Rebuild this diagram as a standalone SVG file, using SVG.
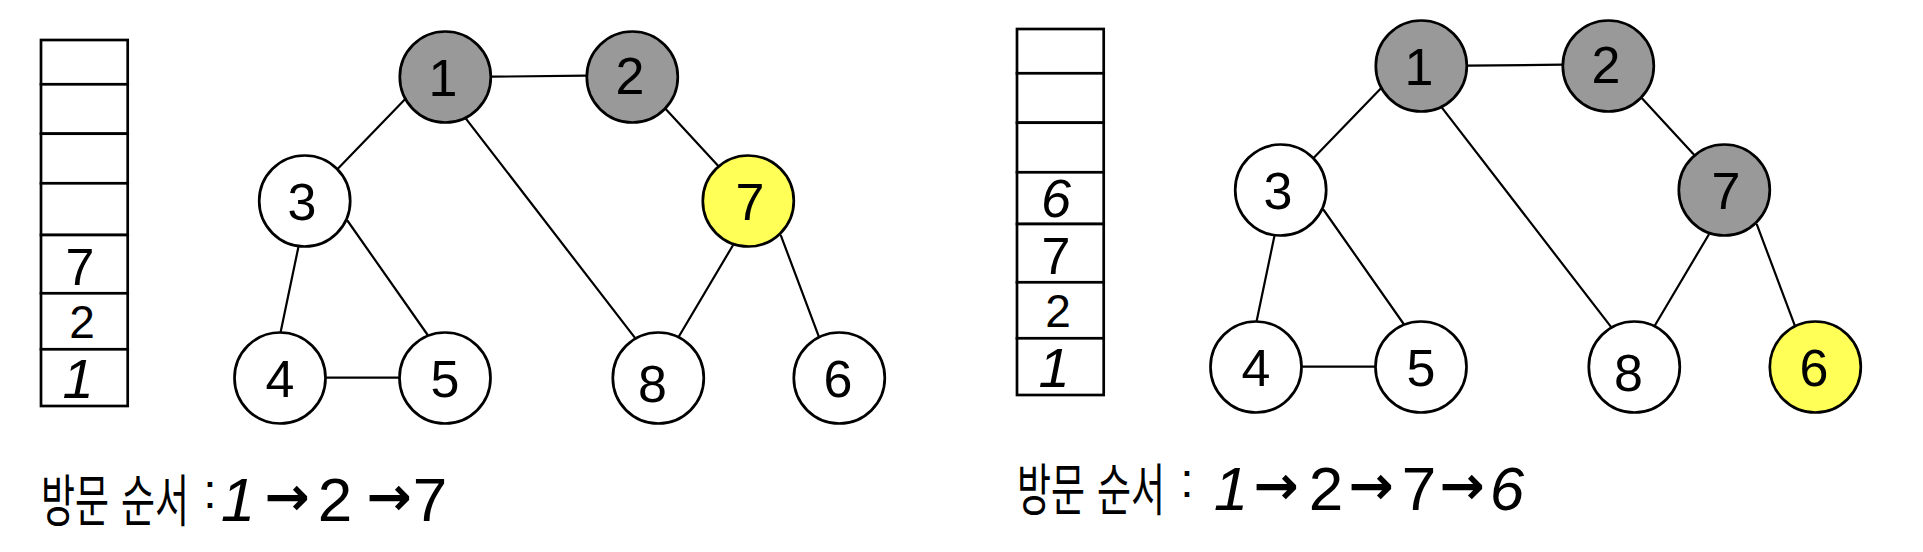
<svg xmlns="http://www.w3.org/2000/svg" width="1923" height="552" viewBox="0 0 1923 552">
<style>
.bg{fill:#ffffff}
.edge{stroke:#000;stroke-width:2.2;fill:none;stroke-linecap:round}
.node{stroke:#000;stroke-width:2.7}
.white{fill:#ffffff}
.gray{fill:#999999}
.yellow{fill:#ffff57}
.lbl{font-family:"Liberation Sans","DejaVu Sans",sans-serif;font-size:52px;fill:#000;text-anchor:middle}
.cell{fill:#fff;stroke:#000;stroke-width:2.7}
.sd{font-family:"Liberation Sans","DejaVu Sans",sans-serif;fill:#000;text-anchor:middle}
.ko{font-family:"Noto Sans CJK KR",sans-serif;font-size:37px;fill:#000}
.dg{font-family:"Liberation Sans","DejaVu Sans",sans-serif;font-size:62px;fill:#000;text-anchor:middle}
.col{font-family:"Liberation Sans","DejaVu Sans",sans-serif;font-size:48px;fill:#000;text-anchor:middle}
.ar{font-family:"DejaVu Sans",sans-serif;font-size:54px;font-weight:bold;fill:#000;text-anchor:middle}
</style>
<rect class="bg" x="0" y="0" width="1923" height="552"/>

<!-- LEFT PANEL -->
<g id="left-panel">
  <g id="stack-left">
    <rect class="cell" x="41" y="40" width="86.7" height="44.3"/>
    <rect class="cell" x="41" y="84.3" width="86.7" height="49.4"/>
    <rect class="cell" x="41" y="133.7" width="86.7" height="49.6"/>
    <rect class="cell" x="41" y="183.3" width="86.7" height="51.7"/>
    <rect class="cell" x="41" y="235" width="86.7" height="58.3"/>
    <rect class="cell" x="41" y="293.3" width="86.7" height="56"/>
    <rect class="cell" x="41" y="349.3" width="86.7" height="56.7"/>
    <text class="sd" x="80" y="285" font-size="52">7</text>
    <text class="sd" x="82" y="338" font-size="46">2</text>
    <text class="sd" x="78" y="398" font-size="56" font-style="italic">1</text>
  </g>
  <g id="edges-left">
    <line class="edge" x1="491" y1="76.7" x2="587" y2="75.7"/>
    <line class="edge" x1="405" y1="99.3" x2="338.3" y2="168.3"/>
    <line class="edge" x1="465.7" y1="118.3" x2="635" y2="337.9"/>
    <line class="edge" x1="665.7" y1="109.1" x2="718.3" y2="166.1"/>
    <line class="edge" x1="298.3" y1="247.5" x2="280.7" y2="331.7"/>
    <line class="edge" x1="347.7" y1="221" x2="427.7" y2="335"/>
    <line class="edge" x1="326.7" y1="377.7" x2="400" y2="377.7"/>
    <line class="edge" x1="732.7" y1="245.7" x2="679" y2="336.2"/>
    <line class="edge" x1="781" y1="235.8" x2="819.3" y2="337.9"/>
  </g>
  <g id="L-node-1"><circle class="node gray" cx="445.3" cy="77" r="45.5"/><text class="lbl" x="443" y="96">1</text></g>
  <g id="L-node-2"><circle class="node gray" cx="632.3" cy="77" r="45.5"/><text class="lbl" x="630" y="94">2</text></g>
  <g id="L-node-3"><circle class="node white" cx="304.7" cy="201" r="45.5"/><text class="lbl" x="302" y="220">3</text></g>
  <g id="L-node-7"><circle class="node yellow" cx="748.3" cy="201" r="45.5"/><text class="lbl" x="750" y="220">7</text></g>
  <g id="L-node-4"><circle class="node white" cx="280" cy="378" r="45.5"/><text class="lbl" x="280" y="397">4</text></g>
  <g id="L-node-5"><circle class="node white" cx="445" cy="378" r="45.5"/><text class="lbl" x="445" y="397">5</text></g>
  <g id="L-node-8"><circle class="node white" cx="658.3" cy="378" r="45.5"/><text class="lbl" x="652.5" y="402">8</text></g>
  <g id="L-node-6"><circle class="node white" cx="839.3" cy="378" r="45.5"/><text class="lbl" x="838" y="397">6</text></g>
  <g id="order-left">
    <text class="ko" transform="translate(41,521) scale(1,1.5)">방문</text>
    <text class="ko" transform="translate(121,521) scale(1,1.5)">순서</text>
    <text class="col" x="210" y="508">:</text>
    <text class="dg" x="238" y="521" font-style="italic">1</text>
    <text class="ar" x="287" y="515">→</text>
    <text class="dg" x="335" y="521">2</text>
    <text class="ar" x="389" y="515">→</text>
    <text class="dg" x="430" y="521">7</text>
  </g>
</g>

<!-- RIGHT PANEL -->
<g id="right-panel" transform="translate(976,-11)">
  <g id="stack-right">
    <rect class="cell" x="41" y="40" width="86.7" height="44.3"/>
    <rect class="cell" x="41" y="84.3" width="86.7" height="49.4"/>
    <rect class="cell" x="41" y="133.7" width="86.7" height="49.6"/>
    <rect class="cell" x="41" y="183.3" width="86.7" height="51.7"/>
    <rect class="cell" x="41" y="235" width="86.7" height="58.3"/>
    <rect class="cell" x="41" y="293.3" width="86.7" height="56"/>
    <rect class="cell" x="41" y="349.3" width="86.7" height="56.7"/>
    <text class="sd" x="80" y="228" font-size="54" font-style="italic">6</text>
    <text class="sd" x="80" y="285" font-size="52">7</text>
    <text class="sd" x="82" y="338" font-size="46">2</text>
    <text class="sd" x="78" y="398" font-size="56" font-style="italic">1</text>
  </g>
  <g id="edges-right">
    <line class="edge" x1="491" y1="76.7" x2="587" y2="75.7"/>
    <line class="edge" x1="405" y1="99.3" x2="338.3" y2="168.3"/>
    <line class="edge" x1="465.7" y1="118.3" x2="635" y2="337.9"/>
    <line class="edge" x1="665.7" y1="109.1" x2="718.3" y2="166.1"/>
    <line class="edge" x1="298.3" y1="247.5" x2="280.7" y2="331.7"/>
    <line class="edge" x1="347.7" y1="221" x2="427.7" y2="335"/>
    <line class="edge" x1="326.7" y1="377.7" x2="400" y2="377.7"/>
    <line class="edge" x1="732.7" y1="245.7" x2="679" y2="336.2"/>
    <line class="edge" x1="781" y1="235.8" x2="819.3" y2="337.9"/>
  </g>
  <g id="R-node-1"><circle class="node gray" cx="445.3" cy="77" r="45.5"/><text class="lbl" x="443" y="96">1</text></g>
  <g id="R-node-2"><circle class="node gray" cx="632.3" cy="77" r="45.5"/><text class="lbl" x="630" y="94">2</text></g>
  <g id="R-node-3"><circle class="node white" cx="304.7" cy="201" r="45.5"/><text class="lbl" x="302" y="220">3</text></g>
  <g id="R-node-7"><circle class="node gray" cx="748.3" cy="201" r="45.5"/><text class="lbl" x="750" y="220">7</text></g>
  <g id="R-node-4"><circle class="node white" cx="280" cy="378" r="45.5"/><text class="lbl" x="280" y="397">4</text></g>
  <g id="R-node-5"><circle class="node white" cx="445" cy="378" r="45.5"/><text class="lbl" x="445" y="397">5</text></g>
  <g id="R-node-8"><circle class="node white" cx="658.3" cy="378" r="45.5"/><text class="lbl" x="652.5" y="402">8</text></g>
  <g id="R-node-6"><circle class="node yellow" cx="839.3" cy="378" r="45.5"/><text class="lbl" x="838" y="397">6</text></g>
  <g id="order-right">
    <text class="ko" transform="translate(41,521) scale(1,1.5)">방문</text>
    <text class="ko" transform="translate(121,521) scale(1,1.5)">순서</text>
    <text class="col" x="211" y="508">:</text>
    <text class="dg" x="255" y="521" font-style="italic">1</text>
    <text class="ar" x="300" y="515">→</text>
    <text class="dg" x="350" y="521">2</text>
    <text class="ar" x="395" y="515">→</text>
    <text class="dg" x="443" y="521">7</text>
    <text class="ar" x="486" y="515">→</text>
    <text class="dg" x="531" y="521" font-style="italic">6</text>
  </g>
</g>
</svg>
